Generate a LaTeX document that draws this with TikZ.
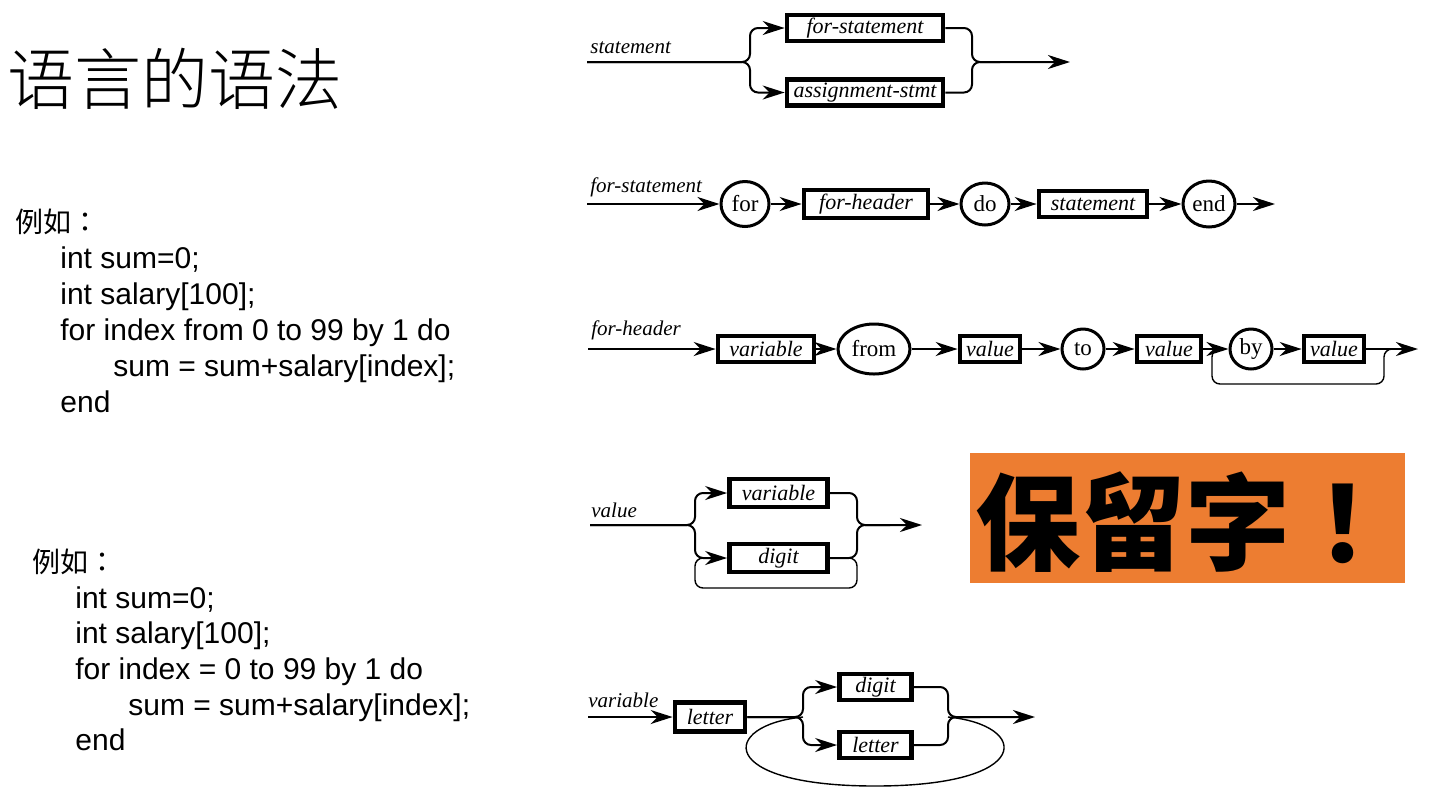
\documentclass[tikz,border=0pt]{standalone}
\usepackage{fontspec}
\setmainfont{Liberation Serif}
\newfontfamily\codefont{Liberation Sans}
\newfontfamily\cjkfont{Noto Sans CJK SC}
\newfontfamily\cjktc{Noto Sans CJK TC}
\newfontfamily\cjklight{Noto Sans CJK SC Light}
\usetikzlibrary{arrows.meta,shapes.geometric}
\definecolor{resv}{HTML}{ED7D31}
\tikzset{
  lbl/.style={font=\fontsize{10.5}{12}\selectfont\itshape, anchor=base west, inner sep=0},
  nt/.style={draw, line width=2.4pt, rectangle, inner sep=0, font=\fontsize{11}{13}\selectfont\itshape},
  tm/.style={draw, line width=1.5pt, ellipse, inner sep=0, font=\fontsize{11.5}{13}\selectfont},
  ln/.style={line width=1pt},
  ar/.style={line width=1pt, -{Stealth[length=11pt,width=7pt,inset=3.5pt]}},
  lp/.style={line width=0.7pt},
  rc/.style={rounded corners=4pt},
  code/.style={anchor=base west, inner sep=0, font=\codefont\fontsize{15}{18}\selectfont},
  cjk/.style={anchor=base west, inner sep=0, font=\cjkfont\fontsize{14}{16}\selectfont},
}
\begin{document}
\begin{tikzpicture}[x=0.5pt,y=-0.5pt]
\fill[white] (0,0) rectangle (1440,810);
\useasboundingbox (0,0) rectangle (1440,810);

% ---------- title ----------
\node[anchor=base west, inner sep=0, font=\cjklight\fontsize{33.5}{35}\selectfont] (title) at (7,104) {语言的语法};

% ---------- left code blocks ----------
\node[cjk]  (a0) at (15,232) {例如{\cjktc ：}};
\node[code] (a1) at (60,268) {int sum=0;};
\node[code] (a2) at (60,304) {int salary[100];};
\node[code] (a3) at (60,340) {for index from 0 to 99 by 1 do};
\node[code] (a4) at (113,376) {sum = sum+salary[index];};
\node[code] (a5) at (60,412) {end};

\node[cjk]  (b0) at (32,572) {例如{\cjktc ：}};
\node[code] (b1) at (75,608) {int sum=0;};
\node[code] (b2) at (75,643) {int salary[100];};
\node[code] (b3) at (75,679) {for index = 0 to 99 by 1 do};
\node[code] (b4) at (128,715) {sum = sum+salary[index];};
\node[code] (b5) at (75,750) {end};

% ---------- reserved word box ----------
\node[fill=resv, minimum width=217.5pt, minimum height=65pt, inner sep=0, anchor=north west] (rb) at (970,453) {};
\node[anchor=base west, inner sep=0, font=\cjkfont\bfseries\fontsize{52.5}{53}\selectfont] (rw) at (975,562) {保留字{\cjktc ！}};

% ---------- statement ----------
\node[lbl] (stL) at (590,53) {statement};
\coordinate (s0) at (587,62);
\coordinate (sJ) at (750,62);
\node[nt, minimum width=78pt, minimum height=13pt] (fs) at (865,28) {for-statement};
\node[nt, minimum width=78pt, minimum height=13pt] (as) at (865,92.5) {assignment-stmt};
\coordinate (sM) at (972,62);
\coordinate (sM2) at (1000,62);
\coordinate (s1) at (1070,62);
\draw[ar, rc] (s0) -- (sJ) |- (fs.west);
\draw[ar, rc] (s0) -- (sJ) |- (as.west);
\draw[ar, rc] (fs.east) -| (sM) -- (s1);
\draw[ln, rc] (as.east) -| (sM) -- (sM2);

% ---------- for-statement ----------
\node[lbl] (fsL) at (590,192) {for-statement};
\coordinate (f0) at (587,204);
\node[tm, minimum width=24pt, minimum height=22.5pt] (forC) at (745,204) {for};
\node[nt, minimum width=62pt, minimum height=14pt] (fh) at (866,204) {for-header};
\node[tm, minimum width=24pt, minimum height=21pt] (doC) at (985,204) {do};
\node[nt, minimum width=54pt, minimum height=13pt] (stB) at (1093,204) {statement};
\node[tm, minimum width=26pt, minimum height=23pt] (endC) at (1209,204) {end};
\coordinate (f1) at (1275,204);
\draw[ar] (f0) -- (forC);
\draw[ar] (forC) -- (fh);
\draw[ar] (fh) -- (doC);
\draw[ar] (doC) -- (stB);
\draw[ar] (stB) -- (endC);
\draw[ar] (endC) -- (f1);

% ---------- for-header ----------
\node[lbl] (fhL) at (591,335) {for-header};
\coordinate (h0) at (588,349);
\node[nt, minimum width=48pt, minimum height=13pt] (hv) at (766,349) {variable};
\node[tm, minimum width=36pt, minimum height=25pt] (hfrom) at (874,349) {from};
\node[nt, minimum width=30pt, minimum height=13pt] (hval1) at (990,349) {value};
\node[tm, minimum width=21pt, minimum height=20pt] (hto) at (1083,349) {to};
\node[nt, minimum width=32pt, minimum height=13pt] (hval2) at (1169,349) {value};
\node[tm, minimum width=21pt, minimum height=20pt] (hby) at (1251,349) {by};
\node[nt, minimum width=30pt, minimum height=13pt] (hval3) at (1334,349) {value};
\coordinate (hLt) at (1222,349);
\coordinate (hL) at (1212,349);
\coordinate (hLb) at (1212,384);
\coordinate (hRb) at (1384,384);
\coordinate (hR) at (1384,349);
\coordinate (hRt) at (1394,349);
\coordinate (h1) at (1418,349);
\draw[ar] (h0) -- (hv);
\draw[ar] (hv) -- (hfrom);
\draw[ar] (hfrom) -- (hval1);
\draw[ar] (hval1) -- (hto);
\draw[ar] (hto) -- (hval2);
\draw[ar] (hval2) -- (hby);
\draw[ar] (hby) -- (hval3);
\draw[ar] (hval3) -- (h1);
\draw[lp, rc] (hLt) -- (hL) -- (hLb) -- (hRb) -- (hR) -- (hRt);

% ---------- value ----------
\node[lbl] (vL) at (591,517) {value};
\coordinate (v0) at (590,525);
\coordinate (vJ) at (695,525);
\node[nt, minimum width=49pt, minimum height=14pt] (vvar) at (778.5,493) {variable};
\node[nt, minimum width=49pt, minimum height=14pt] (vdig) at (778.5,558) {digit};
\coordinate (vM) at (857,525);
\coordinate (vM2) at (890,525);
\coordinate (v1) at (922,525);
\coordinate (vc1) at (857,558);
\coordinate (vc2) at (857,588);
\coordinate (vc3) at (695,588);
\coordinate (vc4) at (695,558);
\coordinate (vc5) at (712,558);
\draw[ar, rc] (v0) -- (vJ) |- (vvar.west);
\draw[ar, rc] (v0) -- (vJ) |- (vdig.west);
\draw[ar, rc] (vvar.east) -| (vM) -- (v1);
\draw[ln, rc] (vdig.east) -| (vM) -- (vM2);
\draw[lp, rc] (vdig.east) -- (vc1) -- (vc2) -- (vc3) -- (vc4) -- (vc5);

% ---------- variable ----------
\node[lbl] (varL) at (588,707) {variable};
\coordinate (w0) at (588,717);
\node[nt, minimum width=35pt, minimum height=14.5pt] (wlet1) at (710,717) {letter};
\coordinate (wJ) at (803,717);
\node[nt, minimum width=36pt, minimum height=13pt] (wdig) at (875.5,687) {digit};
\node[nt, minimum width=36pt, minimum height=13pt] (wlet2) at (875.5,745) {letter};
\coordinate (wM) at (948,717);
\coordinate (wM2) at (980,717);
\coordinate (w1) at (1035,717);
\coordinate (wc1) at (720,725);
\coordinate (wc2) at (715,786);
\coordinate (wB) at (875,786);
\coordinate (wc3) at (1035,786);
\coordinate (wc4) at (1030,725);
\draw[ar] (w0) -- (wlet1);
\draw[ar, rc] (wlet1) -- (wJ) |- (wdig.west);
\draw[ar, rc] (wlet1) -- (wJ) |- (wlet2.west);
\draw[ar, rc] (wdig.east) -| (wM) -- (w1);
\draw[ln, rc] (wlet2.east) -| (wM) -- (wM2);
\draw[lp] (wJ) .. controls (wc1) and (wc2) .. (wB) .. controls (wc3) and (wc4) .. (wM);
\end{tikzpicture}
\end{document}
